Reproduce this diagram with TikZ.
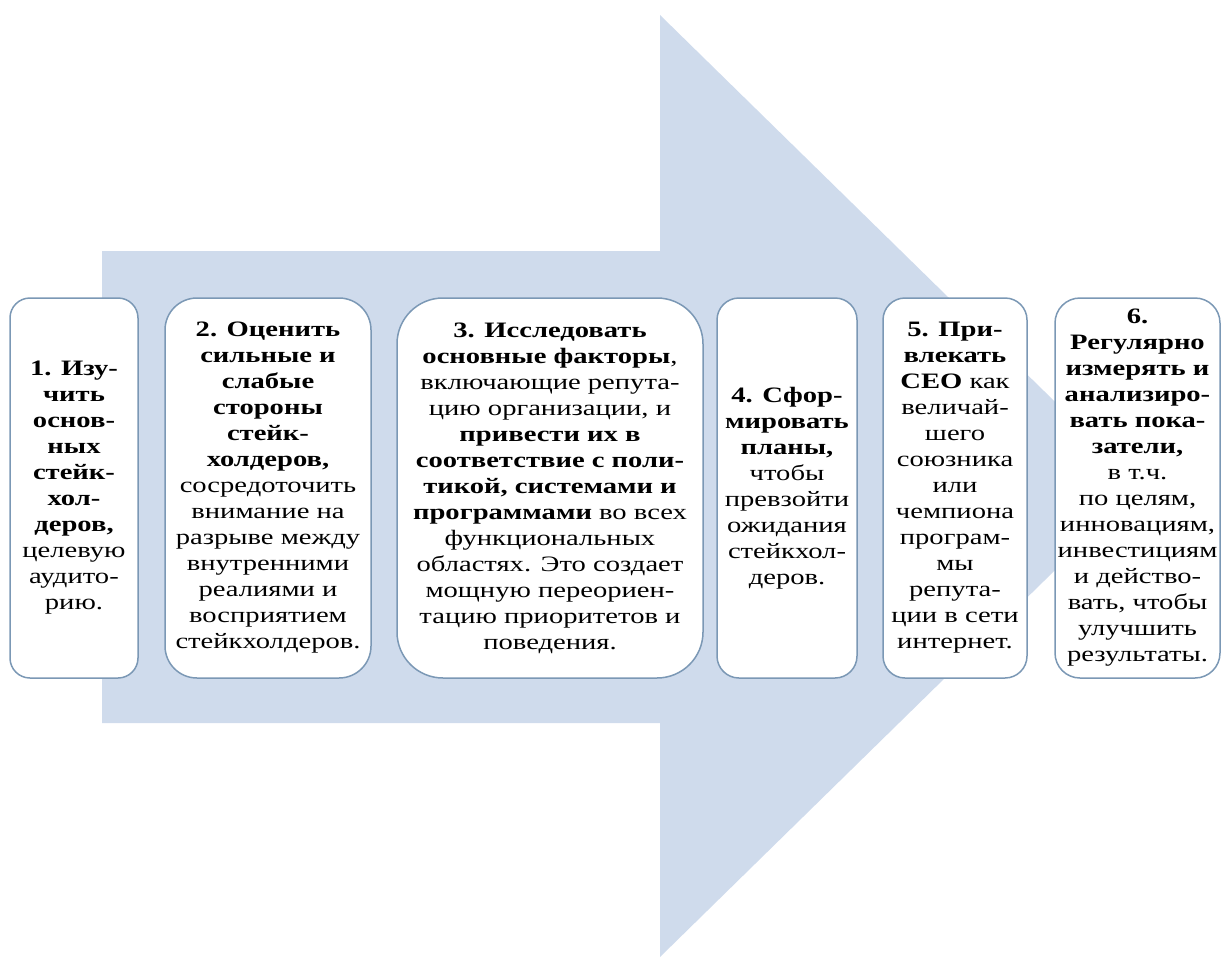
\documentclass[tikz,border=0pt]{standalone}
\usepackage{fontspec}
\setmainfont{Liberation Serif}[FakeStretch=1.3]
\definecolor{arrowfill}{HTML}{CFDBEC}
\definecolor{boxline}{HTML}{7B98B5}
\tikzset{
  stepbox/.style={draw=boxline, line width=1.5pt, fill=white, align=center,
    inner sep=0pt, minimum height=380pt,
    font=\fontsize{22}{26}\selectfont},
}
\begin{document}
\begin{tikzpicture}[x=1pt,y=-1pt]
\useasboundingbox (0,0) rectangle (1222,958);
\fill[arrowfill] (102,251) -- (660,251) -- (660,15) -- (1141,486) -- (660,957) -- (660,723) -- (102,723) -- cycle;

\node[stepbox, minimum width=128pt, rounded corners=20pt] (b1) at (74,488)
 {\textbf{1. Изу-}\\\textbf{чить}\\\textbf{основ-}\\\textbf{ных}\\\textbf{стейк-}\\\textbf{хол-}\\\textbf{деров,}\\целевую\\аудито-\\рию.};

\node[stepbox, minimum width=206pt, rounded corners=32pt] (b2) at (268,488)
 {\textbf{2. Оценить}\\\textbf{сильные и}\\\textbf{слабые}\\\textbf{стороны}\\\textbf{стейк-}\\\textbf{холдеров,}\\сосредоточить\\внимание на\\разрыве между\\внутренними\\реалиями и\\восприятием\\стейкхолдеров.};

\node[stepbox, minimum width=306pt, rounded corners=46pt] (b3) at (550,488)
 {\textbf{3. Исследовать}\\\textbf{основные факторы},\\включающие репута-\\цию организации, и\\\textbf{привести их в}\\\textbf{соответствие с поли-}\\\textbf{тикой, системами и}\\\textbf{программами} во всех\\функциональных\\областях. Это создает\\мощную переориен-\\тацию приоритетов и\\поведения.};

\node[stepbox, minimum width=140pt, rounded corners=22pt] (b4) at (787,488)
 {\textbf{4. Сфор-}\\\textbf{мировать}\\\textbf{планы,}\\чтобы\\превзойти\\ожидания\\стейкхол-\\деров.};

\node[stepbox, minimum width=144pt, rounded corners=22pt] (b5) at (955,488)
 {\textbf{5. При-}\\\textbf{влекать}\\\textbf{CEO} как\\величай-\\шего\\союзника\\или\\чемпиона\\програм-\\мы\\репута-\\ции в сети\\интернет.};

\node[stepbox, minimum width=165pt, rounded corners=25pt] (b6) at (1137.5,488)
 {\textbf{6.}\\\textbf{Регулярно}\\\textbf{измерять и}\\\textbf{анализиро-}\\\textbf{вать пока-}\\\textbf{затели,}\\в т.ч.\\по целям,\\инновациям,\\инвестициям\\и действо-\\вать, чтобы\\улучшить\\результаты.};
\end{tikzpicture}
\end{document}
